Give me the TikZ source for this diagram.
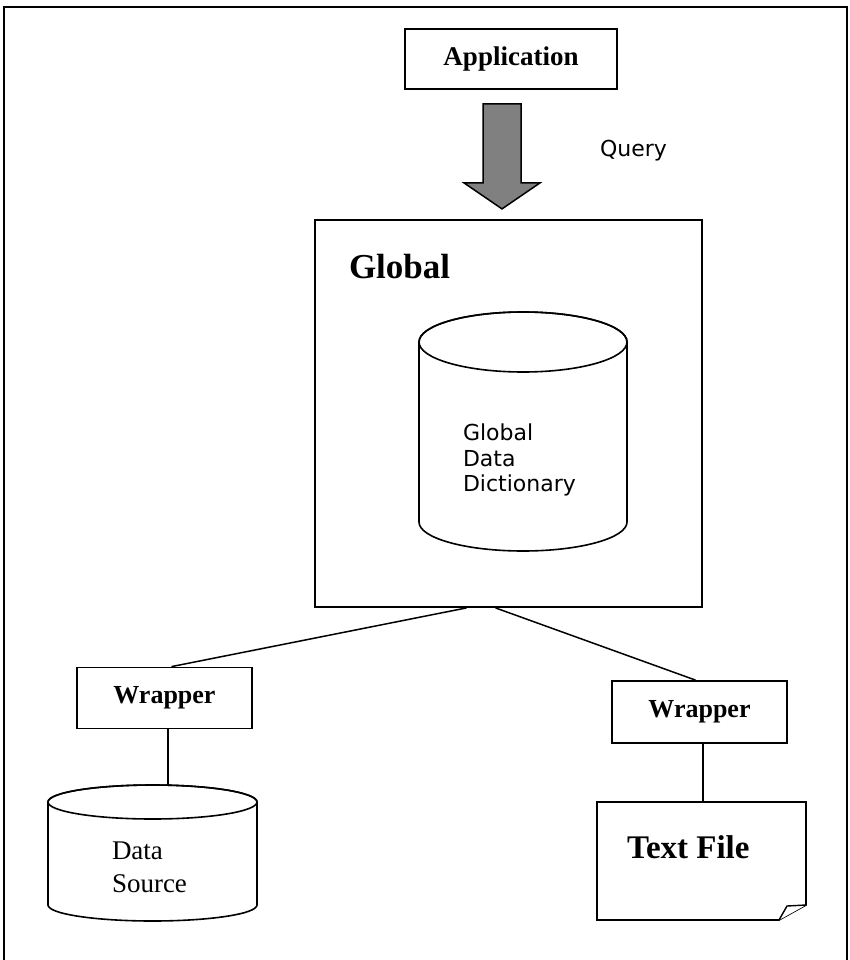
\documentclass[tikz,border=0pt]{standalone}
\usepackage{fontspec}
\setmainfont{Liberation Serif}
\newfontfamily\sansf{DejaVu Sans}
\usetikzlibrary{calc}

\tikzset{
  box/.style={draw, line width=1.8pt, fill=white, inner sep=0pt},
  wrapbox/.style={box, minimum width=175pt, minimum height=61pt,
    font=\fontsize{26}{30}\selectfont\bfseries},
  link/.style={draw, line width=1.5pt},
  ghost/.style={inner sep=0pt, outer sep=0pt},
}

\begin{document}
\begin{tikzpicture}[x=1pt, y=-1pt, line join=miter]
  \useasboundingbox (0,0) rectangle (849,960);

  % outer frame (open at the bottom)
  \draw[line width=2pt] (4,965) -- (4,7) -- (847,7) -- (847,965);

  % application box
  \node[box, minimum width=212pt, minimum height=60pt,
        font=\fontsize{27}{30}\selectfont\bfseries] (app) at (511,59) {Application};

  % query arrow
  \coordinate (qa) at ($(app.south)+(-9,14)$);
  \draw[line width=1.5pt, fill={rgb,255:red,128;green,128;blue,128}]
    ($(qa)+(-19,0)$) -- ($(qa)+(19,0)$) -- ($(qa)+(19,79)$) -- ($(qa)+(38,79)$)
    -- ($(qa)+(0,105)$) -- ($(qa)+(-38,79)$) -- ($(qa)+(-19,79)$) -- cycle;
  \node[ghost, anchor=base west, font=\sansf\fontsize{22}{26}\selectfont] (query) at (600,157) {Query};

  % global box
  \node[box, minimum width=387pt, minimum height=387pt] (glob) at (508.5,413.5) {};
  \node[ghost, anchor=base west, font=\fontsize{35}{40}\selectfont\bfseries] (globt) at (349,278) {Global};

  % global data dictionary cylinder
  \node[ghost, minimum width=208pt, minimum height=240pt] (gdd) at (523,432) {};
  \draw[line width=1.6pt, fill=white]
    (419,342) -- (419,522) arc[start angle=180, end angle=0, x radius=104, y radius=29]
    -- (627,342) arc[start angle=0, end angle=-180, x radius=104, y radius=30];
  \draw[line width=1.6pt] (523,342) ellipse[x radius=104, y radius=30];
  \node[ghost, anchor=north west, align=left, font=\sansf\fontsize{22}{25.5}\selectfont]
    (gddt) at (463,424) {Global\\Data\\Dictionary};

  % wrappers
  \node[wrapbox] (wl) at (164.5,698) {Wrapper};
  \node[wrapbox, minimum height=62pt] (wr) at (699.5,712) {Wrapper};

  \draw[link] ($(glob.south)+(-42,0)$) -- ($(wl.north)+(7,0)$);
  \draw[link] ($(glob.south)+(-13,0)$) -- ($(wr.north)+(-4,0)$);

  % data source cylinder
  \node[ghost, minimum width=209pt, minimum height=137pt] (ds) at (152.5,853.5) {};
  \draw[line width=1.6pt, fill=white]
    (48,802) -- (48,905) arc[start angle=180, end angle=0, x radius=104.5, y radius=16]
    -- (257,802) arc[start angle=0, end angle=-180, x radius=104.5, y radius=17];
  \draw[line width=1.6pt] (152.5,802) ellipse[x radius=104.5, y radius=17];
  \node[ghost, anchor=base west, font=\fontsize{27}{33}\selectfont]
    (dst) at (112,859) {Data};
  \node[ghost, anchor=base west, font=\fontsize{27}{33}\selectfont]
    (dst2) at (112,892) {Source};

  % text file sheet with curled corner
  \node[ghost, minimum width=209pt, minimum height=118pt] (tf) at (701.5,861) {};
  \draw[line width=1.6pt, fill=white]
    (tf.north west) -- (tf.north east) -- ($(tf.south east)+(0,-15)$)
    -- ($(tf.south east)+(-27,0)$) -- (tf.south west) -- cycle;
  \draw[line width=1.4pt, fill=white]
    ($(tf.south east)+(-27,0)$) -- ($(tf.south east)+(-19,-14)$)
    -- ($(tf.south east)+(0,-15)$);
  \node[ghost, anchor=base west, font=\fontsize{33}{38}\selectfont\bfseries]
    (tft) at (627,858) {Text File};

  \draw[link] ($(wl.south)+(3.5,0)$) -- ($(ds.north)+(15.5,0)$);
  \draw[link] ($(wr.south)+(3.5,0)$) -- ($(tf.north)+(1.5,0)$);
\end{tikzpicture}
\end{document}
